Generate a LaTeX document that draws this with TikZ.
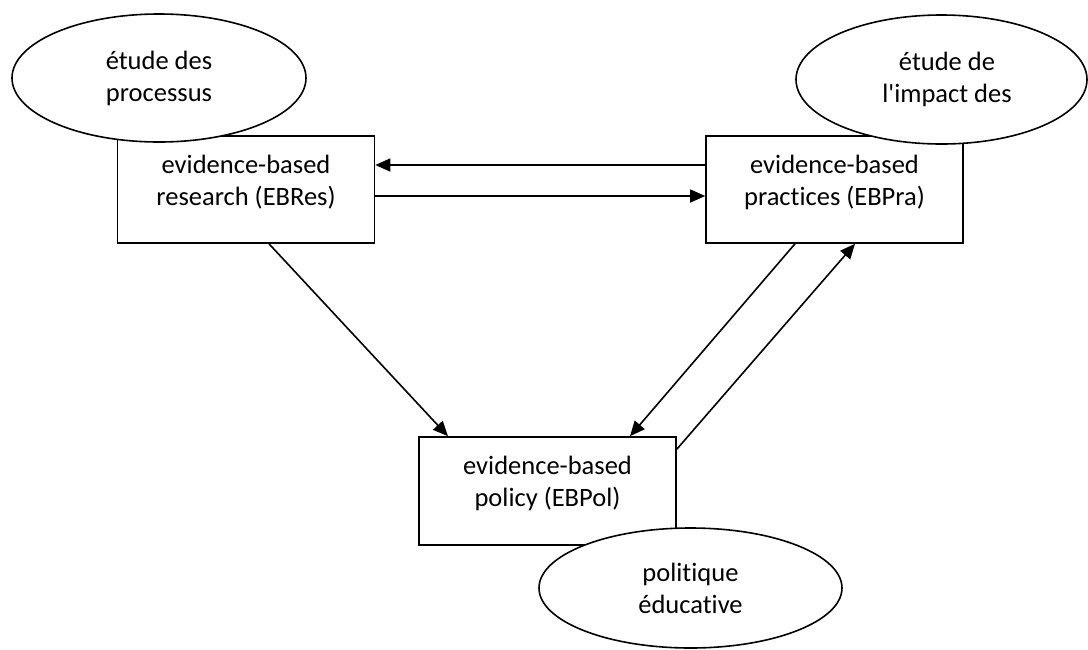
\documentclass[tikz,border=0pt]{standalone}
\usepackage{fontspec}
\setmainfont{Carlito}[Ligatures={TeXOff,NoCommon}]
\usetikzlibrary{arrows.meta,shapes.geometric,calc}
\begin{document}
\begin{tikzpicture}[x=1pt,y=-1pt,
  boxnode/.style={draw, line width=1.6pt, rectangle, inner sep=0pt, minimum width=257pt, minimum height=107pt},
  ell/.style={draw, fill=white, ellipse, line width=1.6pt, inner sep=0pt, align=center, font=\fontsize{26.5}{32}\selectfont},
  lbl/.style={align=center, inner sep=0pt, font=\fontsize{26.5}{32}\selectfont},
  arr/.style={line width=1.6pt, -{Triangle[length=15pt,width=13pt]}}]
\useasboundingbox (0,0) rectangle (1088,649);
% boxes
\node[boxnode] (res) at (246,189.5) {};
\node[boxnode] (pra) at (834.5,189.5) {};
\node[boxnode, minimum height=108pt] (pol) at (547.5,491) {};
\node[lbl] (restxt) at (246,182.5) {evidence-based\\research (EBRes)};
\node[lbl] (pratxt) at (834.5,182.5) {evidence-based\\practices (EBPra)};
\node[lbl] (poltxt) at (547.5,483) {evidence-based\\policy (EBPol)};
% ellipses
\node[ell, minimum width=294pt, minimum height=128pt] (e1) at (159,78) {étude des\\processus};
\node[ell, minimum width=291pt, minimum height=129pt] (e2) at (941.5,79.5) {};
\node[lbl] (e2txt) at (947,79) {étude de\\l'impact des};
\node[ell, minimum width=303pt, minimum height=120pt] (e3) at (690.5,588) {politique\\éducative};
% arrows
\draw[arr] ([yshift=24.5pt]pra.west) -- ([yshift=24.5pt]res.east);
\draw[arr] ([yshift=-6.5pt]res.east) -- ([yshift=-6.5pt]pra.west);
\draw[arr] ([xshift=23pt]res.south) -- ([xshift=-99.5pt]pol.north);
\draw[arr] ([xshift=-39.5pt]pra.south) -- ([xshift=82.5pt]pol.north);
\draw[arr] ([yshift=-13pt]pol.north east) -- ([xshift=20.5pt]pra.south);
\end{tikzpicture}
\end{document}
